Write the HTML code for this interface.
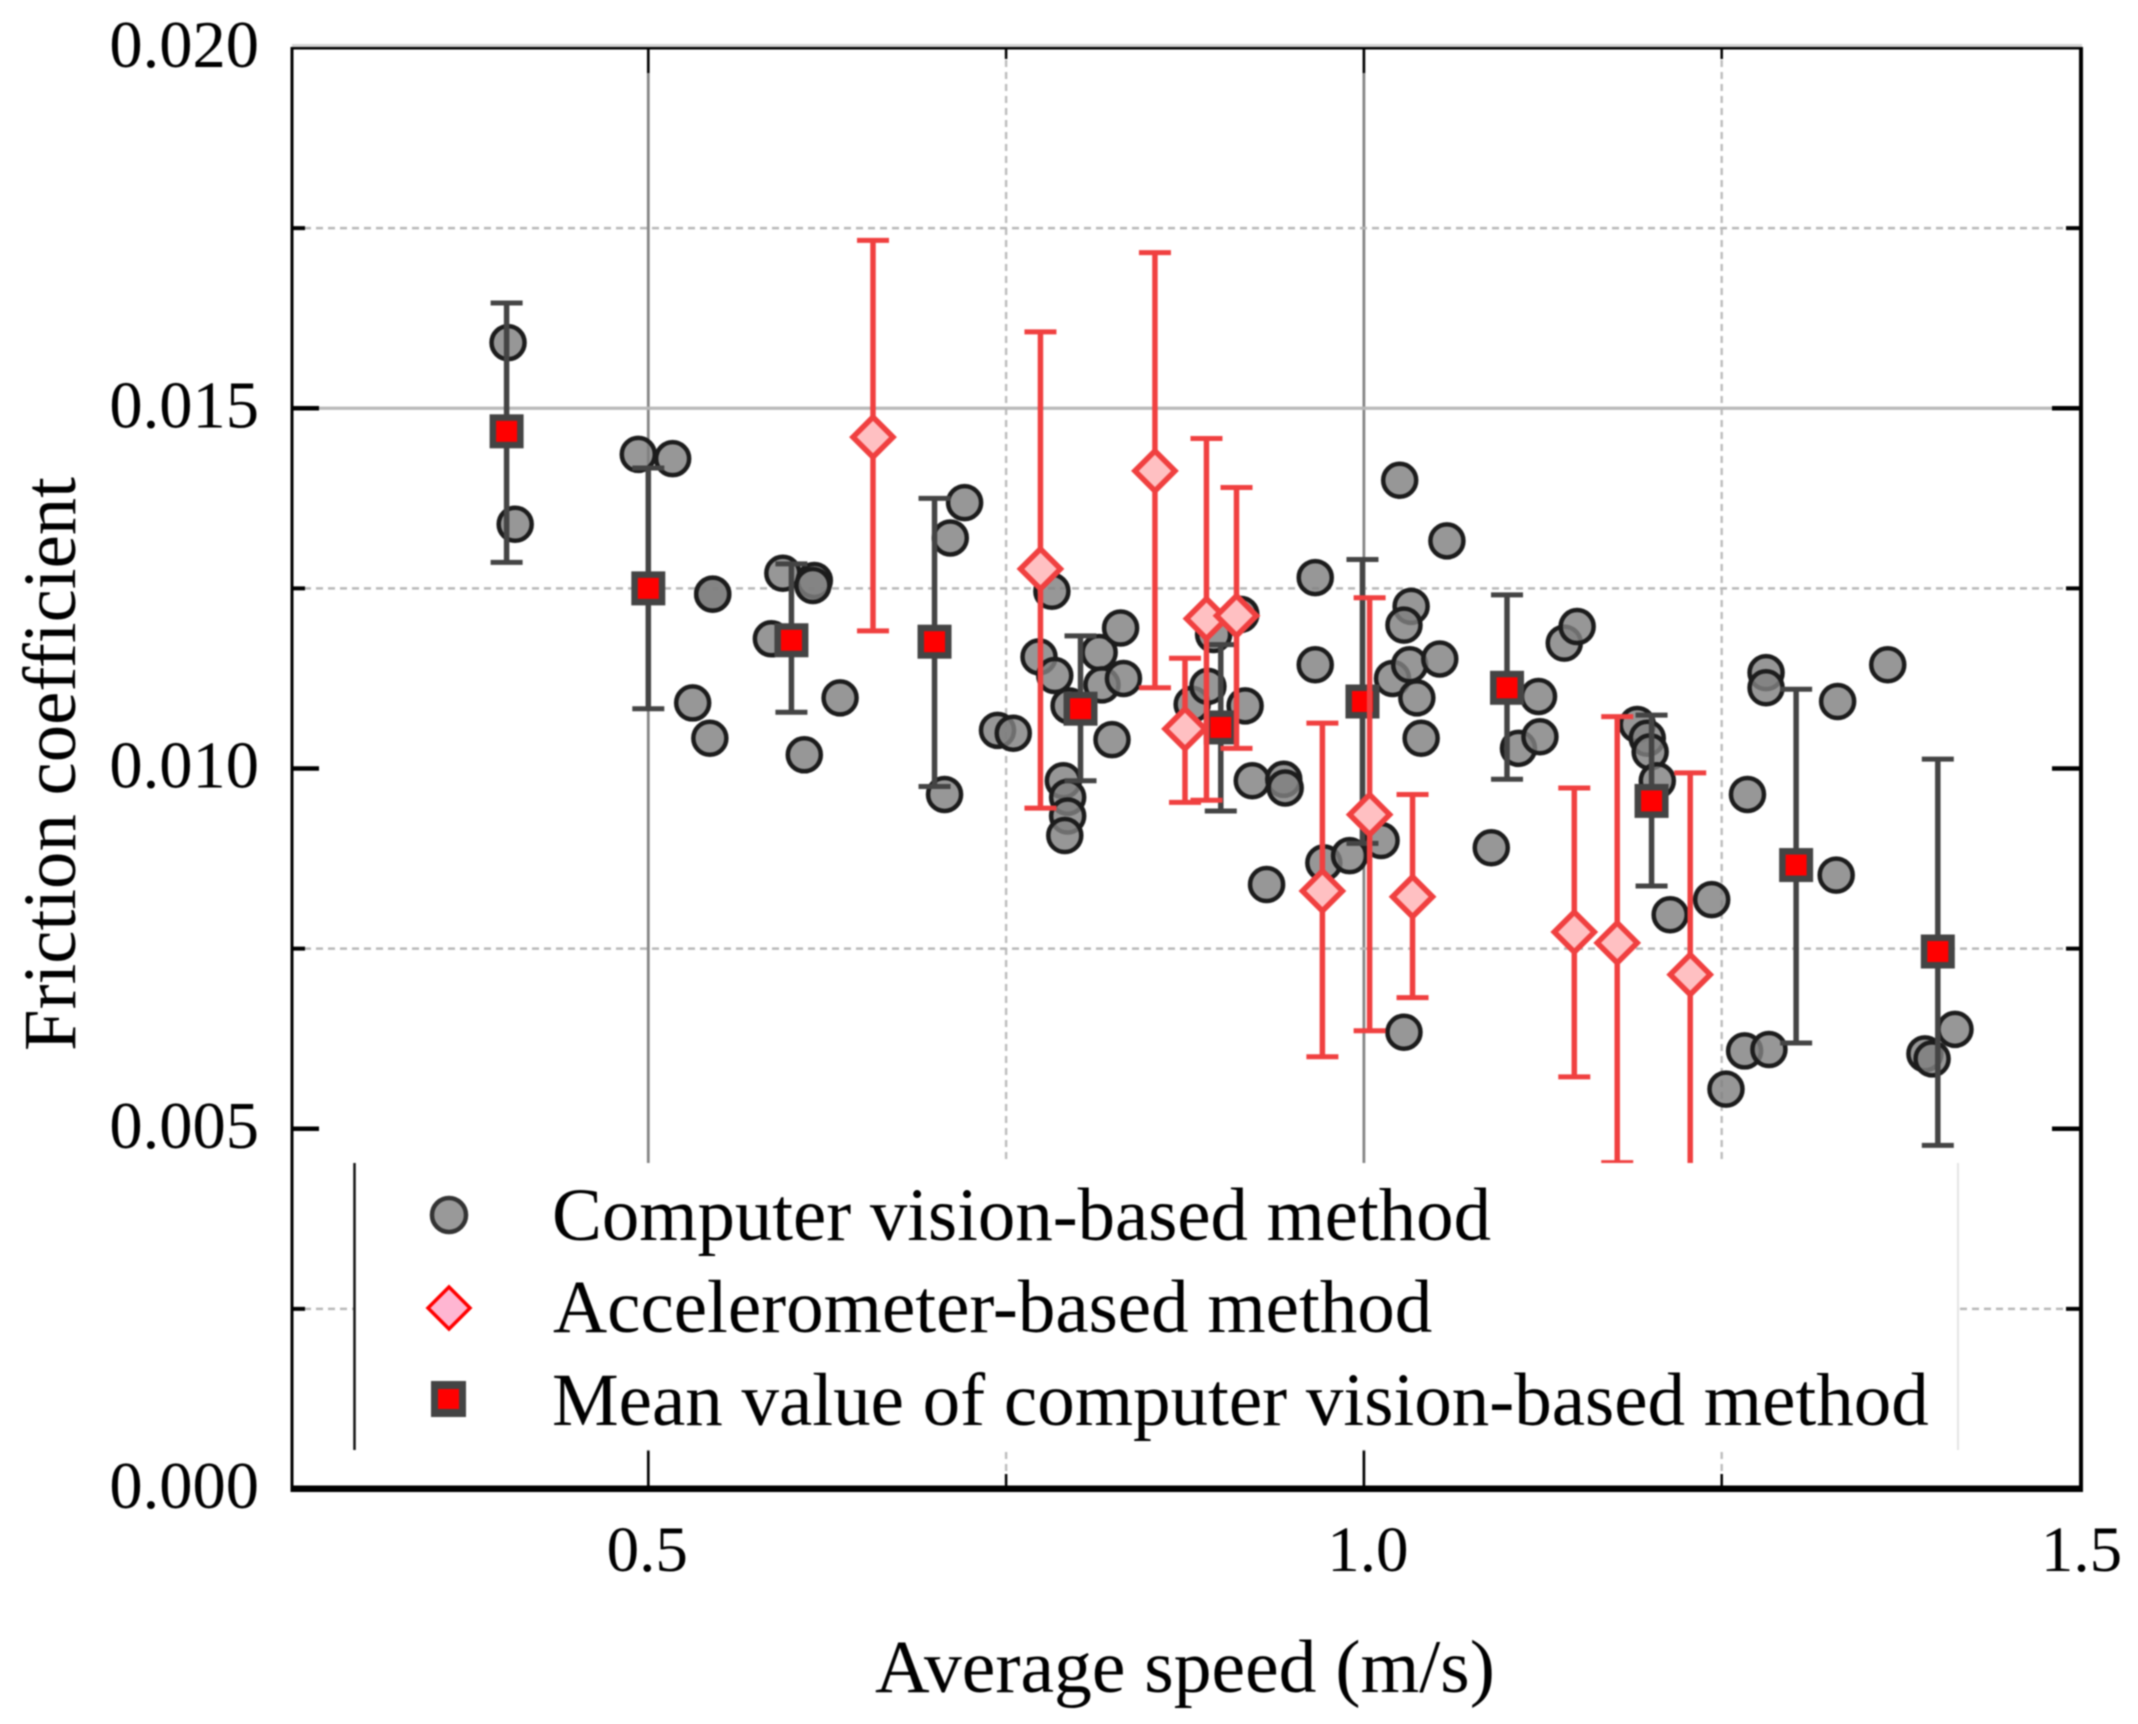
<!DOCTYPE html>
<html lang="en">
<head>
<meta charset="utf-8">
<title>Friction coefficient vs average speed</title>
<style>
  html, body { margin: 0; padding: 0; background: #fff; }
  #chart { display: block; width: 2138px; height: 1724px; filter: blur(0.85px); }
  text { font-family: "Liberation Serif", "Times New Roman", serif; fill: #000; }
</style>
</head>
<body>
<svg id="chart" xmlns="http://www.w3.org/2000/svg" width="2138" height="1724" viewBox="0 0 2138 1724">
  <g id="grid"></g>
  <g id="cv-points"></g>
  <g id="mean-points"></g>
  <g id="acc-points"></g>

  <g>
    <rect x="354" y="1163" width="1604" height="287" fill="#fff"/>
    <line x1="354.5" y1="1163" x2="354.5" y2="1450" stroke="#111" stroke-width="2.5"/>
    <line x1="1958" y1="1163" x2="1958" y2="1450" stroke="#e4e4e4" stroke-width="2"/>
    <circle cx="449" cy="1215" r="17" fill="#999" stroke="#333" stroke-width="4.5"/>
    <polygon points="449,1287 470,1308 449,1329 428,1308" fill="#ffb6d2" stroke="#f00" stroke-width="3.5"/>
    <rect x="431" y="1381" width="35" height="36" fill="#444"/>
    <rect x="438" y="1389" width="21" height="20" fill="#f00"/>
    <text x="552" y="1240" font-size="74.8">Computer vision-based method</text>
    <text x="553" y="1332" font-size="75">Accelerometer-based method</text>
    <text x="552" y="1425" font-size="75">Mean value of computer vision-based method</text>
  </g>

  <g id="axes">
    <rect x="292" y="44" width="1790" height="3" fill="#d4d4d4"/>
    <rect x="292" y="47" width="1790" height="2.5" fill="#000"/>
    <rect x="290.5" y="47" width="3" height="1445" fill="#000"/>
    <rect x="2079" y="47" width="4" height="1445" fill="#000"/>
    <rect x="290.5" y="1485.5" width="1792" height="6.5" fill="#000"/>
  </g>

  <text x="875" y="1692" font-size="75.6">Average speed (m/s)</text>
  <text transform="translate(75 1051) rotate(-90)" font-size="74.8">Friction coefficient</text>
</svg>

<script>
// ---------- chart data ----------
const xMajorTicks = [0.5, 1.0, 1.5];
const xMinorTicks = [0.75, 1.25];
const yMajorTicks = [0, 0.005, 0.01, 0.015, 0.02];
const yMinorTicks = [0.0025, 0.0075, 0.0125, 0.0175];
const xTickLabels = ['0.5', '1.0', '1.5'];
const yTickLabels = ['0.000', '0.005', '0.010', '0.015', '0.020'];

const cvSpeed = [0.402,0.407,0.493,0.517,0.545,0.545,0.531,0.543,0.594,0.586,0.616,0.615,0.634,0.609,0.707,0.711,0.721,0.744,0.755,0.782,0.773,0.784,0.794,0.790,0.793,0.793,0.791,0.815,0.817,0.830,0.832,0.824,0.880,0.891,0.895,0.914,0.917,0.922,0.944,0.945,0.932,0.966,0.966,0.972,0.990,1.012,1.025,1.058,1.033,1.028,1.020,1.032,1.053,1.037,1.040,1.028,1.089,1.108,1.123,1.122,1.140,1.149,1.191,1.198,1.200,1.205,1.214,1.243,1.253,1.266,1.283,1.268,1.281,1.281,1.331,1.366,1.330,1.392,1.397,1.413];
const cvFriction = [0.01591,0.01339,0.01436,0.01430,0.01242,0.01242,0.01091,0.01042,0.01271,0.01180,0.01261,0.01254,0.01098,0.01019,0.00964,0.01320,0.01369,0.01053,0.01049,0.01246,0.01155,0.01129,0.01087,0.00983,0.00960,0.00934,0.00907,0.01161,0.01116,0.01195,0.01125,0.01040,0.01089,0.01114,0.01186,0.01214,0.01087,0.00983,0.00985,0.00973,0.00839,0.01265,0.01144,0.00869,0.00879,0.00900,0.01400,0.01316,0.01225,0.01199,0.01125,0.01144,0.01152,0.01098,0.01042,0.00634,0.00890,0.01028,0.01044,0.01100,0.01174,0.01197,0.01061,0.01042,0.01023,0.00983,0.00797,0.00818,0.00555,0.00608,0.00610,0.00964,0.01133,0.01112,0.01093,0.01144,0.00852,0.00604,0.00597,0.00638];

const accSpeed = [0.657,0.774,0.854,0.875,0.890,0.911,0.971,1.004,1.034,1.147,1.177,1.228];
const accFriction = [0.01460,0.01277,0.01413,0.01055,0.01208,0.01212,0.00830,0.00936,0.00822,0.00773,0.00758,0.00714];
const accUpper = [0.01733,0.01606,0.01716,0.01153,0.01458,0.01390,0.01063,0.01237,0.00964,0.00973,0.01072,0.00994];
const accLower = [0.01191,0.00945,0.01112,0.00953,0.00956,0.01028,0.00600,0.00636,0.00682,0.00572,0.00453,0.00435];

const meanSpeed = [0.401,0.5,0.600,0.700,0.802,0.900,0.999,1.100,1.201,1.302,1.401];
const meanFriction = [0.01468,0.01250,0.01178,0.01176,0.01083,0.01057,0.01093,0.01112,0.00955,0.00866,0.00746];
const meanUpper = [0.01646,0.01417,0.01284,0.01375,0.01184,0.01172,0.01290,0.01241,0.01074,0.01110,0.01013];
const meanLower = [0.01286,0.01083,0.01078,0.00975,0.00983,0.00941,0.00896,0.00985,0.00837,0.00619,0.00477];

// ---------- axis functions ----------
const plotLeft = 292, plotRight = 2081, plotTop = 48, plotBottom = 1489;
const xMin = 0.25, xMax = 1.5, yMin = 0, yMax = 0.02;
function sx(v) { return plotLeft - 1.5 + (v - xMin) / (xMax - xMin) * (plotRight - plotLeft); }
function sy(v) { return plotBottom - (v - yMin) / (yMax - yMin) * (plotBottom - plotTop); }

const NS = 'http://www.w3.org/2000/svg';
function mk(parent, tag, attrs) {
  const el = document.createElementNS(NS, tag);
  for (const k in attrs) el.setAttribute(k, attrs[k]);
  parent.appendChild(el);
  return el;
}
const gridG = document.getElementById('grid');
const axesG = document.getElementById('axes');
const cvG = document.getElementById('cv-points');
const meanG = document.getElementById('mean-points');
const accG = document.getElementById('acc-points');

// ---------- grid ----------
xMajorTicks.slice(0, 2).forEach(function (t) {
  const el = mk(gridG, 'line', {x1: sx(t), y1: plotTop, x2: sx(t), y2: plotBottom, stroke: '#858585', 'stroke-width': 2.8});
  
  
});
xMinorTicks.forEach(function (t) {
  const el = mk(gridG, 'line', {x1: sx(t), y1: plotTop, x2: sx(t), y2: plotBottom, stroke: '#bcbcbc', 'stroke-width': 2.4, 'stroke-dasharray': '7 5'});
  
  
});
[0.015].forEach(function (t) {
  const el = mk(gridG, 'line', {x1: plotLeft, y1: sy(t), x2: plotRight, y2: sy(t), stroke: '#b8b8b8', 'stroke-width': 3.2});
  
  
});
yMinorTicks.forEach(function (t) {
  const el = mk(gridG, 'line', {x1: plotLeft, y1: sy(t), x2: plotRight, y2: sy(t), stroke: '#b8b8b8', 'stroke-width': 2.5, 'stroke-dasharray': '7 5'});
  
  
});

// ---------- computer vision points ----------
cvSpeed.forEach(function (s, i) {
  const c = mk(cvG, 'circle', {cx: sx(s), cy: sy(cvFriction[i]), r: 16.5, fill: 'rgba(128,128,128,0.82)', stroke: '#1c1c1c', 'stroke-width': 4.5});
  
  
});

// ---------- mean values with error bars ----------
meanSpeed.forEach(function (s, i) {
  const x = sx(s), yHi = sy(meanUpper[i]), yLo = sy(meanLower[i]), y = sy(meanFriction[i]);
  const bar = mk(meanG, 'line', {x1: x, y1: yHi, x2: x, y2: yLo, stroke: '#444', 'stroke-width': 5.5});
  
  
  const capTop = mk(meanG, 'line', {x1: x - 16, y1: yHi, x2: x + 16, y2: yHi, stroke: '#444', 'stroke-width': 5});
  
  
  const capBot = mk(meanG, 'line', {x1: x - 16, y1: yLo, x2: x + 16, y2: yLo, stroke: '#444', 'stroke-width': 5});
  
  
  const outer = mk(meanG, 'rect', {x: x - 17, y: y - 17, width: 34, height: 34, fill: '#444'});
  
  
  const inner = mk(meanG, 'rect', {x: x - 10.5, y: y - 10.5, width: 21, height: 21, fill: '#f00'});
  
  
});

// ---------- accelerometer points with error bars ----------
accSpeed.forEach(function (s, i) {
  const x = sx(s), yHi = sy(accUpper[i]), yLo = sy(accLower[i]), y = sy(accFriction[i]);
  const bar = mk(accG, 'line', {x1: x, y1: yHi, x2: x, y2: yLo, stroke: '#f04040', 'stroke-width': 5.5});
  
  
  const capTop = mk(accG, 'line', {x1: x - 16, y1: yHi, x2: x + 16, y2: yHi, stroke: '#f04040', 'stroke-width': 5});
  
  
  const capBot = mk(accG, 'line', {x1: x - 16, y1: yLo, x2: x + 16, y2: yLo, stroke: '#f04040', 'stroke-width': 5});
  
  
  const d = 20;
  const pts = [x, y - d, x + d, y, x, y + d, x - d, y].join(' ');
  const dia = mk(accG, 'polygon', {points: pts, fill: '#ffc0c2', stroke: '#f04040', 'stroke-width': 5.5});
  
  
});

// ---------- ticks ----------
function tickBlack(x1, y1, x2, y2, w) {
  const el = mk(axesG, 'line', {x1: x1, y1: y1, x2: x2, y2: y2, stroke: '#000', 'stroke-width': w});
  
  
}
xMajorTicks.slice(0, 2).forEach(function (t) {
  tickBlack(sx(t), plotBottom, sx(t), plotBottom - 38, 2.5);
  tickBlack(sx(t), plotTop, sx(t), plotTop + 25, 2.5);
});
xMinorTicks.forEach(function (t) {
  tickBlack(sx(t), plotBottom, sx(t), plotBottom - 15, 2.5);
  tickBlack(sx(t), plotTop, sx(t), plotTop + 11, 2.5);
});
yMajorTicks.slice(1, 4).forEach(function (t) {
  tickBlack(plotLeft, sy(t), plotLeft + 27, sy(t), 4.5);
  tickBlack(plotRight, sy(t), plotRight - 29, sy(t), 4.5);
});
yMinorTicks.forEach(function (t) {
  tickBlack(plotLeft, sy(t), plotLeft + 13, sy(t), 4);
  tickBlack(plotRight, sy(t), plotRight - 15, sy(t), 4);
});

// ---------- tick labels ----------
const chart = document.getElementById('chart');
xMajorTicks.forEach(function (t, i) {
  const el = mk(chart, 'text', {x: sx(t) + (i === 0 ? -1 : i === 1 ? 4 : 2), y: 1571, 'font-size': 65, 'text-anchor': 'middle'});
  el.textContent = xTickLabels[i];
  
  
});
yMajorTicks.forEach(function (t, i) {
  const el = mk(chart, 'text', {x: 259, y: sy(t) + 19, 'font-size': 66.5, 'text-anchor': 'end'});
  el.textContent = yTickLabels[i];
  
  
});
</script>
</body>
</html>
